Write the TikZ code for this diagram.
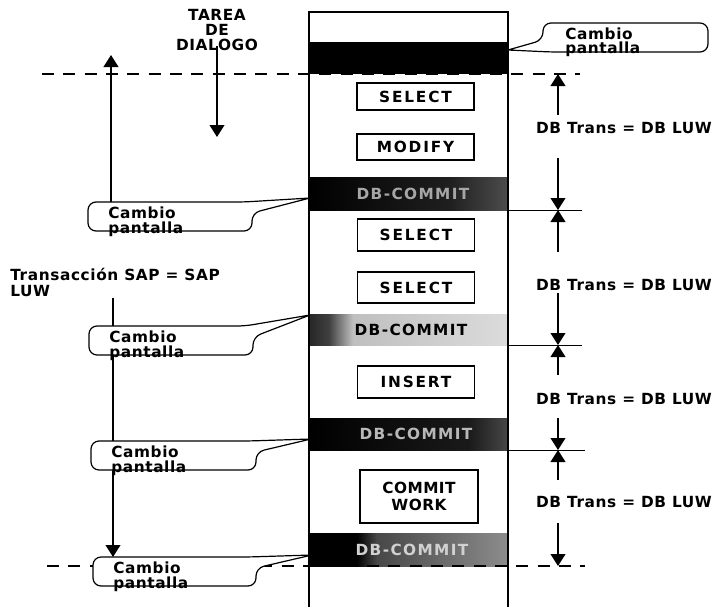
\documentclass[tikz,border=0pt]{standalone}
\usepackage{fontspec}
\setmainfont{DejaVu Sans}[LetterSpace=4]
\newfontfamily\boxfont{DejaVu Sans}[LetterSpace=12]
\newfontfamily\cwfont{DejaVu Sans}[LetterSpace=3]
\newfontfamily\bandfont{DejaVu Sans}[LetterSpace=9]
\usetikzlibrary{arrows.meta}
\pgfdeclarehorizontalshading{bandA}{100bp}{color(0bp)=(black); color(25bp)=(black); color(60bp)=(black!88); color(75bp)=(black!70); color(100bp)=(black!70)}
\pgfdeclarehorizontalshading{bandB}{100bp}{color(0bp)=(black!85); color(25bp)=(black!85); color(30bp)=(black!75); color(36bp)=(black!25); color(75bp)=(black!14); color(100bp)=(black!14)}
\pgfdeclarehorizontalshading{bandC}{100bp}{color(0bp)=(black); color(25bp)=(black); color(65bp)=(black!90); color(75bp)=(black!72); color(100bp)=(black!72)}
\pgfdeclarehorizontalshading{bandD}{100bp}{color(0bp)=(black); color(25bp)=(black); color(37bp)=(black); color(42bp)=(black!72); color(75bp)=(black!45); color(100bp)=(black!45)}
\tikzset{
  x=0.75pt, y=-0.75pt,
  lbl/.style={font=\bfseries\fontsize{11.5}{13}\selectfont, inner sep=0pt},
  boxtxt/.style={draw, line width=1.1pt, inner sep=0pt, font=\boxfont\bfseries\fontsize{11.5}{13}\selectfont, minimum width=87.75pt},
  bandtxt/.style={inner sep=0pt, font=\bandfont\bfseries\fontsize{11.5}{13}\selectfont},
  arr/.style={line width=1.5pt, -{Triangle[length=9pt,width=11pt]}},
  sline/.style={line width=1.5pt},
  dline/.style={line width=1.5pt, dash pattern=on 9pt off 7pt},
  hline/.style={line width=0.75pt},
  colline/.style={line width=1.1pt},
  cline/.style={draw, fill=white, line width=0.9pt, rounded corners=6pt, line join=round},
}
\newcommand\leftcallout[5]{%
  \draw[cline] (#5) -- (#4,#3+11) -- (#4,#3+29) -- (#2,#3+29) -- (#2,#3) -- (#4-8,#3) -- (#5);
  \node[lbl, anchor=base west] (#1a) at (#2+20,#3+16) {Cambio};
  \node[lbl, anchor=base west] (#1b) at (#2+20,#3+31) {pantalla};
}
\begin{document}
\begin{tikzpicture}
\useasboundingbox[fill=white] (0,0) rectangle (717,607);

% bands
\path[fill=black] (309,42) rectangle (508,74);
\path[shading=bandA] (309,177) rectangle (508,210);
\path[shading=bandB] (309,314) rectangle (508,345);
\path[shading=bandC] (309,418) rectangle (508,450);
\path[shading=bandD] (309,533) rectangle (508,566);
\node[bandtxt, text=white!65!black] (b2) at (413,193.5) {DB-COMMIT};
\node[bandtxt, text=black] (b3) at (411,329.5) {DB-COMMIT};
\node[bandtxt, text=white!72!black] (b4) at (416,434) {DB-COMMIT};
\node[bandtxt, text=white!82!black] (b5) at (412,549.5) {DB-COMMIT};

% column
\draw[colline] (309,607) -- (309,12) -- (508,12) -- (508,607);

% dashed lines
\coordinate (dl1) at (42,74);  \coordinate (dr1) at (580,74);
\coordinate (dl2) at (47,566); \coordinate (dr2) at (585,566);
\draw[dline] (dl1) -- (dr1);
\draw[dline] (dl2) -- (dr2);

% right thin lines
\draw[hline] (508,210) -- (582,210);
\draw[hline] (508,345) -- (582,345);
\draw[hline] (508,450) -- (585,450);

% statement boxes
\node[boxtxt, minimum height=20.25pt] (sel1) at (415.5,96.5) {SELECT};
\node[boxtxt, minimum height=19.5pt] (mod) at (415.5,147) {MODIFY};
\node[boxtxt, minimum height=24pt] (sel2) at (416,235) {SELECT};
\node[boxtxt, minimum height=23.25pt] (sel3) at (416,287.5) {SELECT};
\node[boxtxt, minimum height=24pt] (ins) at (416,382) {INSERT};
\node[boxtxt, font=\cwfont\bfseries\fontsize{11.5}{12.5}\selectfont, minimum width=88.5pt, minimum height=39.75pt, align=center] (cw) at (419,496.5) {COMMIT\\WORK};

% right DB Trans labels and arrows
\node[lbl] (t1) at (624,128) {DB Trans = DB LUW};
\node[lbl] (t2) at (624,285) {DB Trans = DB LUW};
\node[lbl] (t3) at (624,399) {DB Trans = DB LUW};
\node[lbl] (t4) at (624,502) {DB Trans = DB LUW};
\draw[arr] (558,115) -- (558,74);
\draw[arr] (558,158) -- (558,210);
\draw[arr] (558,252) -- (558,210);
\draw[arr] (558,293) -- (558,345);
\draw[arr] (558,375) -- (558,345);
\draw[arr] (558,418) -- (558,450);
\draw[arr] (558,480) -- (558,450);
\draw[arr] (558,523) -- (558,566);

% TAREA DE DIALOGO
\draw[arr] (217,46) -- (217,137);
\node[lbl, anchor=base] (ta1) at (217,20) {TAREA};
\node[lbl, anchor=base] (ta2) at (217,35) {DE};
\node[lbl, anchor=base] (ta3) at (217,50) {DIALOGO};

% SAP transaction
\node[lbl, anchor=base west] (sap1) at (10,280) {Transacción SAP = SAP};
\node[lbl, anchor=base west] (sap2) at (10,296) {LUW};
\draw[arr] (111,202) -- (111,55);
\draw[sline] (113,298) -- (113,326);
\draw[sline] (113,356) -- (113,441);
\draw[arr] (113,470) -- (113,557);

% callouts
\coordinate (p1) at (508,50);
\coordinate (p2) at (310,198);
\coordinate (p3) at (310,315);
\coordinate (p4) at (311,439);
\coordinate (p5) at (312,555);
\draw[cline] (p1) -- (543,40) -- (543,23) -- (708,23) -- (708,52) -- (551,52) -- (p1);
\node[lbl, anchor=base west] (c0a) at (565,39) {Cambio};
\node[lbl, anchor=base west] (c0b) at (565,53) {pantalla};
\leftcallout{c1}{88}{202}{252}{p2}
\leftcallout{c2}{89}{326}{253}{p3}
\leftcallout{c3}{91}{441}{256}{p4}
\leftcallout{c4}{93}{557}{256}{p5}
\end{tikzpicture}
\end{document}
